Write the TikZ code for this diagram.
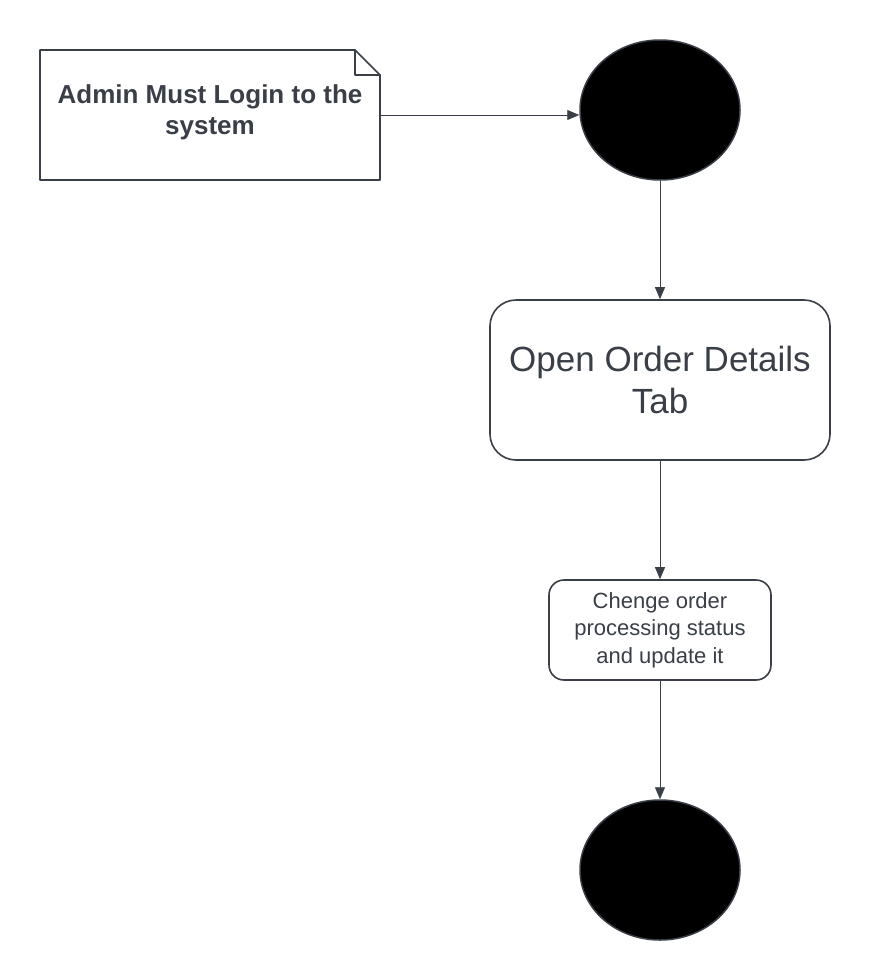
\documentclass[tikz,border=0pt]{standalone}
\usepackage{fontspec}
\setmainfont{Liberation Sans}
\usetikzlibrary{arrows.meta,shapes.geometric}

\definecolor{inkgray}{HTML}{3A3F47}

\tikzset{
  flow/.style={draw=inkgray, line width=0.9pt, -{Triangle[length=12pt,width=10pt]}},
  blob/.style={ellipse, draw=inkgray, line width=1.5pt, fill=black,
    minimum width=160pt, minimum height=140pt, inner sep=0pt},
  actbox/.style={draw=inkgray, line width=1.6pt, align=center, text=inkgray,
    inner sep=0pt}
}

\begin{document}
\begin{tikzpicture}[x=1pt, y=-1pt, line cap=round, line join=round]

\useasboundingbox (0,0) rectangle (870,980);

% note with folded corner (top right)
\node[text=inkgray, align=center, font=\bfseries\fontsize{26}{31}\selectfont,
      minimum width=340pt, minimum height=130pt, inner sep=0pt] (note) at (210,112) {Admin Must Login to the\\system};
\draw[draw=inkgray, line width=1.6pt]
  (40,50) -- (355,50) -- (380,75) -- (380,180) -- (40,180) -- cycle;
\draw[draw=inkgray, line width=1.6pt] (355,50) -- (355,75) -- (380,75);
\coordinate (noteout) at (380,115);

% start and end blobs
\node[blob] (start) at (660,110) {};
\node[blob] (stop)  at (660,870) {};

% the two activities
\node[actbox, rounded corners=26pt, minimum width=340pt, minimum height=160pt,
      font=\fontsize{35}{42}\selectfont] (opentab) at (660,380) {Open Order Details\\Tab};
\node[actbox, rounded corners=15pt, minimum width=222pt, minimum height=100pt,
      font=\fontsize{22}{27.5}\selectfont] (status) at (660,630) {Chenge order\\processing status\\and update it};

% connectors
\draw[flow] (noteout) -- (noteout -| start.west);
\draw[flow] (start.south) -- (opentab.north);
\draw[flow] (opentab.south) -- (status.north);
\draw[flow] (status.south) -- (stop.north);

\end{tikzpicture}
\end{document}
